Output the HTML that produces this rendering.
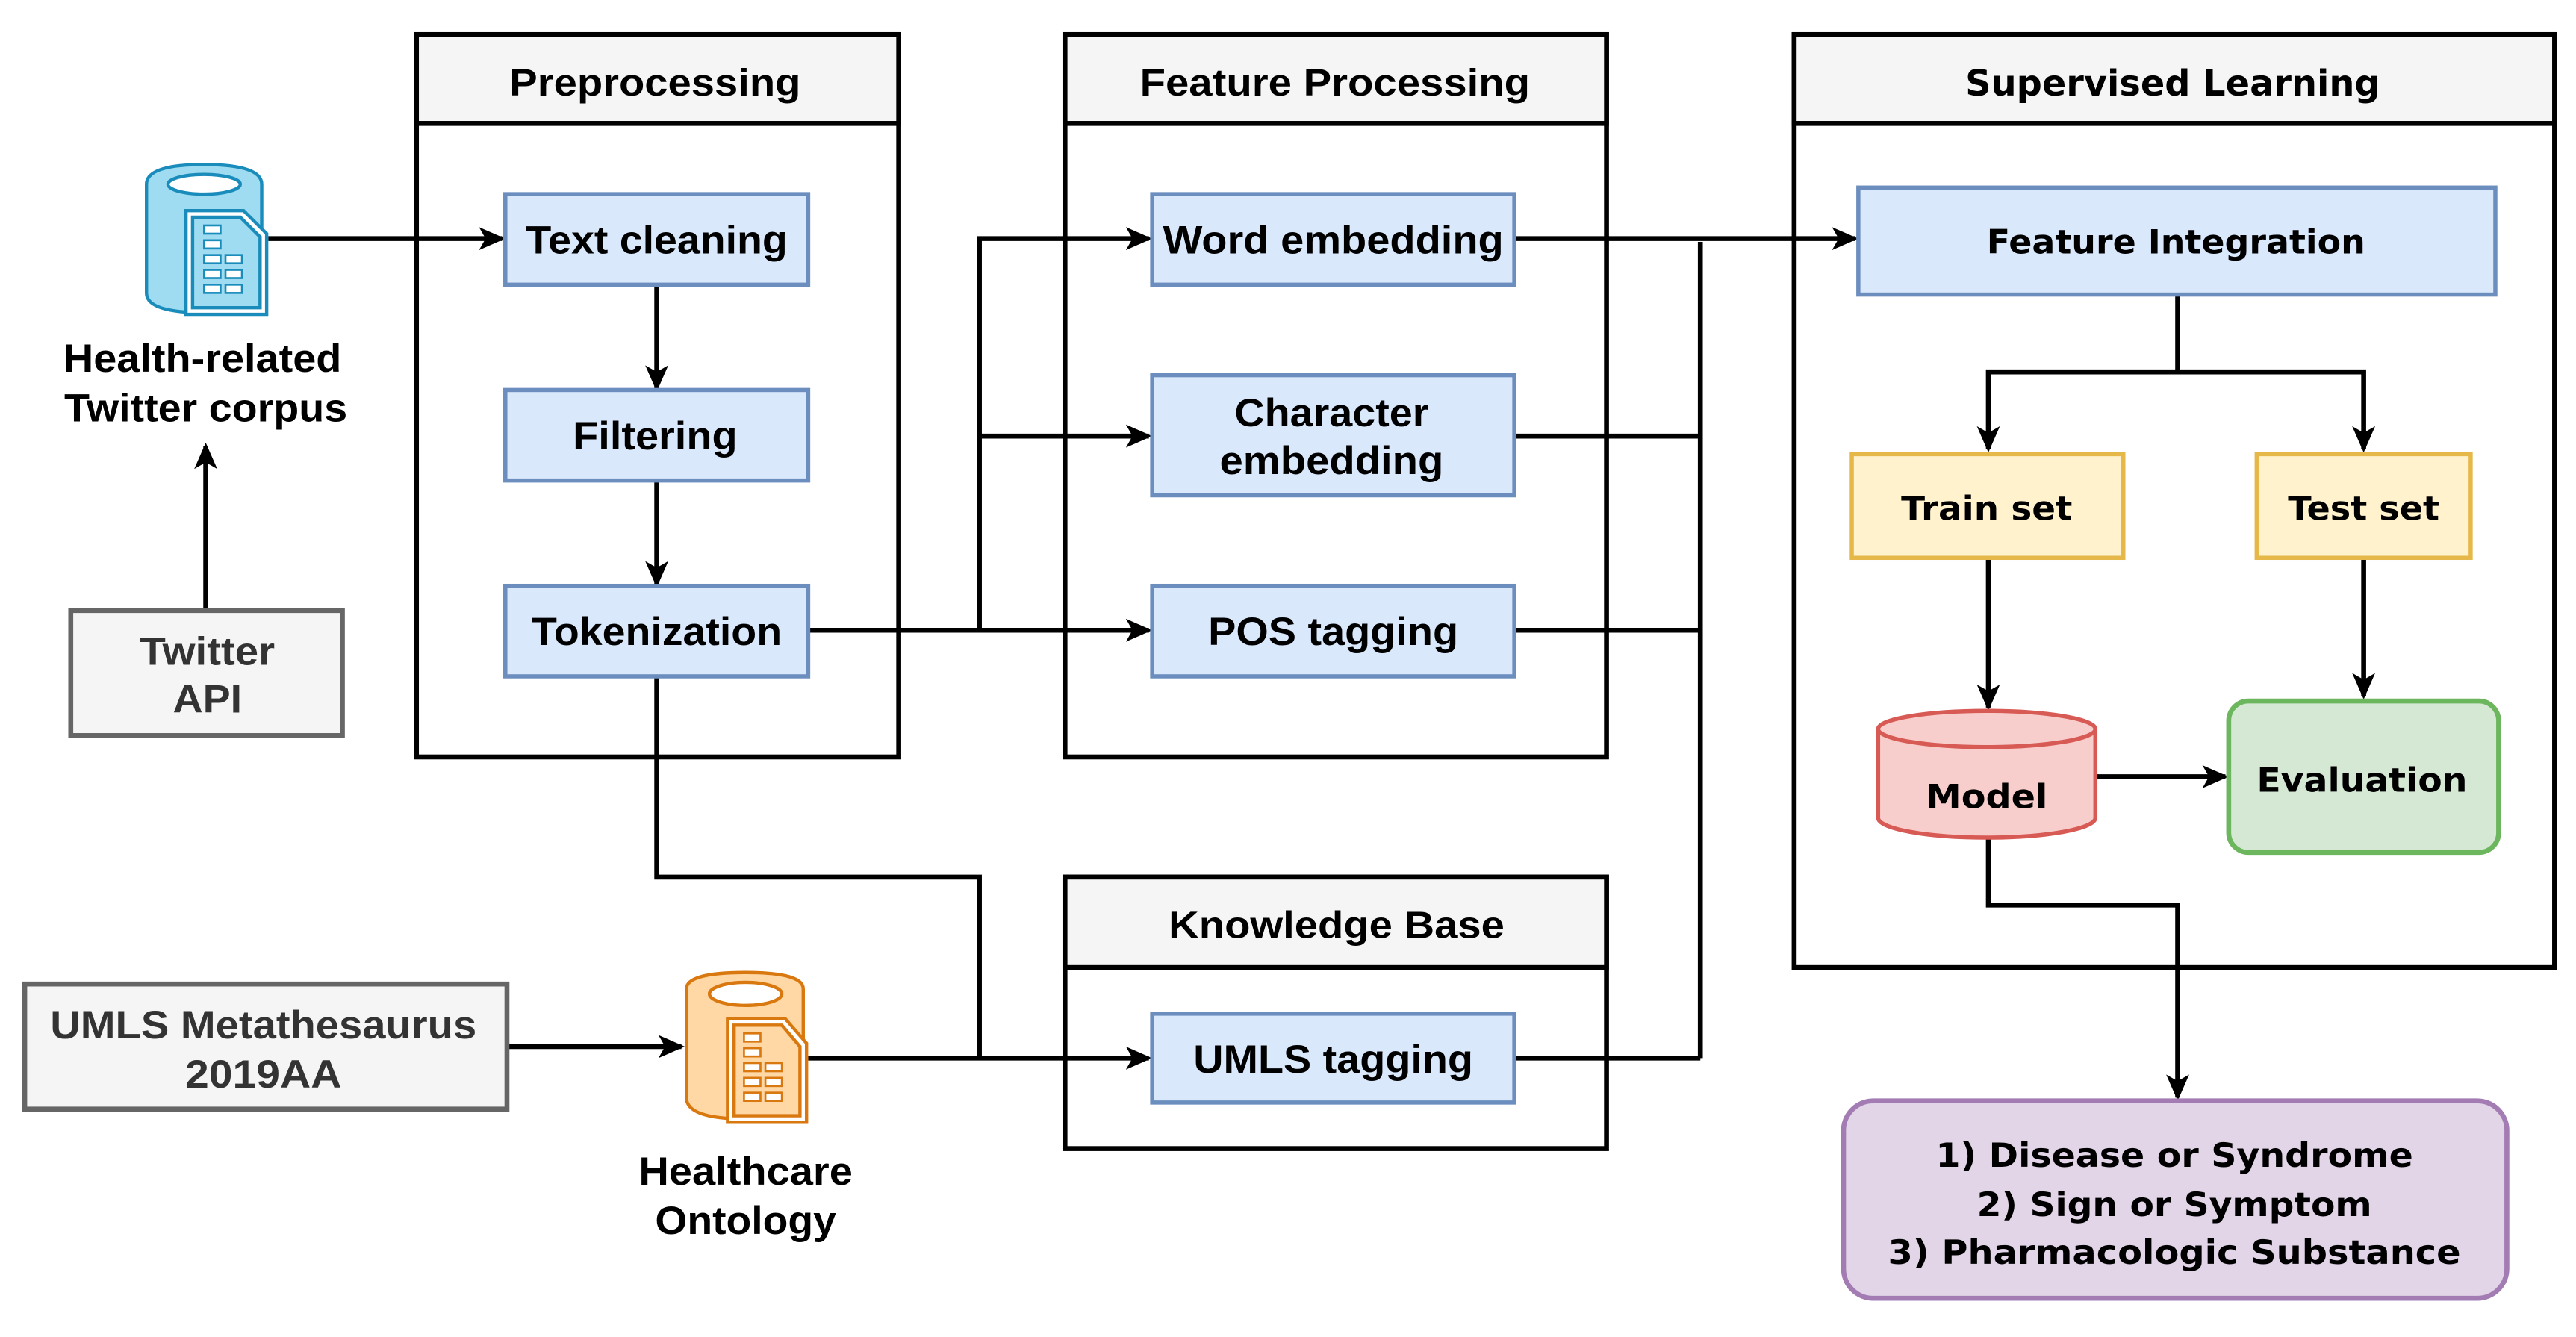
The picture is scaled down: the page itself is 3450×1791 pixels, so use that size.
<!DOCTYPE html>
<html><head><meta charset="utf-8"><style>
html,body{margin:0;padding:0;background:#fff;}
svg{display:block;}
text{font-family:"Liberation Sans",sans-serif;font-weight:bold;fill:#000;}
.v{font-family:"DejaVu Sans",sans-serif;}
.g{fill:#333;}
</style></head><body>
<svg width="3450" height="1791" viewBox="0 0 1565 812.5" preserveAspectRatio="none" xmlns="http://www.w3.org/2000/svg">
<defs>
<marker id="a" markerWidth="16" markerHeight="14" refX="14" refY="7" orient="auto" markerUnits="userSpaceOnUse" viewBox="0 0 16 14">
<path d="M0,0 L16,7 L0,14 L4,7 Z" fill="#000"/>
</marker>
</defs>
<rect width="1565" height="812.5" fill="#fff"/>

<g stroke="#000" stroke-width="3">
<rect x="253" y="21" width="293" height="439" fill="#fff"/>
<rect x="253" y="21" width="293" height="54" fill="#f5f5f5"/>
<rect x="647" y="21" width="329" height="439" fill="#fff"/>
<rect x="647" y="21" width="329" height="54" fill="#f5f5f5"/>
<rect x="1090" y="21" width="462" height="567" fill="#fff"/>
<rect x="1090" y="21" width="462" height="54" fill="#f5f5f5"/>
<rect x="647" y="533" width="329" height="165" fill="#fff"/>
<rect x="647" y="533" width="329" height="55" fill="#f5f5f5"/>
</g>
<text x="398" y="58" font-size="23" text-anchor="middle" textLength="177" lengthAdjust="spacingAndGlyphs">Preprocessing</text>
<text x="811" y="58" font-size="23" text-anchor="middle" textLength="237" lengthAdjust="spacingAndGlyphs">Feature Processing</text>
<text x="1320" y="58" font-size="22" class="v" text-anchor="middle" textLength="252" lengthAdjust="spacingAndGlyphs">Supervised Learning</text>
<text x="812" y="570" font-size="23" text-anchor="middle" textLength="204" lengthAdjust="spacingAndGlyphs">Knowledge Base</text>

<g stroke="#000" stroke-width="3" fill="none">
<path d="M163,145 H305" marker-end="url(#a)"/>
<path d="M399,174 V236" marker-end="url(#a)"/>
<path d="M399,293 V355" marker-end="url(#a)"/>
<path d="M491,383 H698" marker-end="url(#a)"/>
<path d="M595,383 V145 H698" marker-end="url(#a)"/>
<path d="M595,265 H698" marker-end="url(#a)"/>
<path d="M399,411 V533 H595 V643"/>
<path d="M491,643 H698" marker-end="url(#a)"/>
<path d="M308,636 H414" marker-end="url(#a)"/>
<path d="M125,370 V271" marker-end="url(#a)"/>
<path d="M920,145 H1127" marker-end="url(#a)"/>
<path d="M920,265 H1033 M920,383 H1033 M920,643 H1033 M1033,643 V147"/>
<path d="M1323,179 V226 H1208 V273" marker-end="url(#a)"/>
<path d="M1323,226 H1436 V273" marker-end="url(#a)"/>
<path d="M1208,339 V430" marker-end="url(#a)"/>
<path d="M1436,339 V423" marker-end="url(#a)"/>
<path d="M1273,472 H1352" marker-end="url(#a)"/>
<path d="M1208,510 V550 H1323 V667" marker-end="url(#a)"/>
</g>

<g fill="#dae8fc" stroke="#6c8ebf" stroke-width="2.5">
<rect x="307" y="118" width="184" height="55"/>
<rect x="307" y="237" width="184" height="55"/>
<rect x="307" y="356" width="184" height="55"/>
<rect x="700" y="118" width="220" height="55"/>
<rect x="700" y="228" width="220" height="73"/>
<rect x="700" y="356" width="220" height="55"/>
<rect x="700" y="616" width="220" height="54"/>
<rect x="1129" y="114" width="387" height="65"/>
</g>
<g font-size="24" text-anchor="middle">
<text x="399" y="154" textLength="159" lengthAdjust="spacingAndGlyphs">Text cleaning</text>
<text x="398" y="273" textLength="100" lengthAdjust="spacingAndGlyphs">Filtering</text>
<text x="399" y="392" textLength="152" lengthAdjust="spacingAndGlyphs">Tokenization</text>
<text x="810" y="154" textLength="207" lengthAdjust="spacingAndGlyphs">Word embedding</text>
<text x="809" y="259" textLength="118" lengthAdjust="spacingAndGlyphs">Character</text>
<text x="809" y="288" textLength="136" lengthAdjust="spacingAndGlyphs">embedding</text>
<text x="810" y="392" textLength="152" lengthAdjust="spacingAndGlyphs">POS tagging</text>
<text x="810" y="652" textLength="170" lengthAdjust="spacingAndGlyphs">UMLS tagging</text>
<text x="123" y="226" textLength="169" lengthAdjust="spacingAndGlyphs">Health-related</text>
<text x="125" y="256" textLength="172" lengthAdjust="spacingAndGlyphs">Twitter corpus</text>
<text x="453" y="720" textLength="130" lengthAdjust="spacingAndGlyphs">Healthcare</text>
<text x="453" y="750" textLength="110" lengthAdjust="spacingAndGlyphs">Ontology</text>
</g>

<g fill="#f5f5f5" stroke="#666" stroke-width="3">
<rect x="43" y="371" width="165" height="76"/>
<rect x="15" y="598" width="293" height="76"/>
</g>
<g font-size="24" text-anchor="middle">
<text class="g" x="126" y="404" textLength="82" lengthAdjust="spacingAndGlyphs">Twitter</text>
<text class="g" x="126" y="433" textLength="42" lengthAdjust="spacingAndGlyphs">API</text>
<text class="g" x="160" y="631" textLength="259" lengthAdjust="spacingAndGlyphs">UMLS Metathesaurus</text>
<text class="g" x="160" y="661" textLength="95" lengthAdjust="spacingAndGlyphs">2019AA</text>
</g>

<g fill="#fff2cc" stroke="#e6b84a" stroke-width="2.5">
<rect x="1125" y="276" width="165" height="63"/>
<rect x="1371" y="276" width="130" height="63"/>
</g>
<rect x="1354" y="426" width="164" height="92" rx="12" fill="#d5e8d4" stroke="#6cb65d" stroke-width="3"/>
<g stroke="#d85a55" stroke-width="2.5" fill="#f8cecc">
<path d="M1141,443 V497 A66,12 0 0 0 1273,497 V443"/>
<ellipse cx="1207" cy="443" rx="66" ry="11"/>
</g>
<rect x="1120" y="669" width="403" height="120" rx="18" fill="#e1d5e7" stroke="#a37cb4" stroke-width="3"/>
<g font-size="20" text-anchor="middle">
<text class="v" x="1322" y="154" textLength="230" lengthAdjust="spacingAndGlyphs">Feature Integration</text>
<text class="v" x="1207" y="316" textLength="104" lengthAdjust="spacingAndGlyphs">Train set</text>
<text class="v" x="1436" y="316" textLength="92" lengthAdjust="spacingAndGlyphs">Test set</text>
<text class="v" x="1207" y="491" textLength="74" lengthAdjust="spacingAndGlyphs">Model</text>
<text class="v" x="1435" y="481" textLength="128" lengthAdjust="spacingAndGlyphs">Evaluation</text>
<text class="v" x="1321" y="709" textLength="290" lengthAdjust="spacingAndGlyphs">1) Disease or Syndrome</text>
<text class="v" x="1321" y="739" textLength="240" lengthAdjust="spacingAndGlyphs">2) Sign or Symptom</text>
<text class="v" x="1321" y="768" textLength="348" lengthAdjust="spacingAndGlyphs">3) Pharmacologic Substance</text>
</g>

<g stroke="#1a8cbb" stroke-width="2">
<path d="M89,112 Q89,100 124,100 Q159,100 159,112 V178 Q159,190 124,190 Q89,190 89,178 Z" fill="#9fdcf1"/>
<ellipse cx="124" cy="112" rx="22" ry="6" fill="#fff"/>
<path d="M113,128 H148 L162,142 V191 H113 Z" fill="#fff"/>
<path d="M117,132 H146 L158,144 V187 H117 Z" fill="#9fdcf1"/>
<g fill="#fff" stroke-width="1.2">
<rect x="124" y="137" width="10" height="5"/><rect x="124" y="146" width="10" height="5"/>
<rect x="124" y="155" width="10" height="5"/><rect x="137" y="155" width="10" height="5"/>
<rect x="124" y="164" width="10" height="5"/><rect x="137" y="164" width="10" height="5"/>
<rect x="124" y="173" width="10" height="5"/><rect x="137" y="173" width="10" height="5"/>
</g>
</g>
<g stroke="#d9780f" stroke-width="2">
<path d="M417,601 Q417,591 453,591 Q488,591 488,601 V667 Q488,680 453,680 Q417,680 417,667 Z" fill="#ffd8a6"/>
<ellipse cx="453" cy="604" rx="22" ry="7" fill="#fff"/>
<path d="M442,619 H477 L490,634 V682 H442 Z" fill="#fff"/>
<path d="M446,623 H475 L486,636 V678 H446 Z" fill="#ffd8a6"/>
<g fill="#fff" stroke-width="1.2">
<rect x="452" y="628" width="10" height="5"/><rect x="452" y="637" width="10" height="5"/>
<rect x="452" y="646" width="10" height="5"/><rect x="465" y="646" width="10" height="5"/>
<rect x="452" y="655" width="10" height="5"/><rect x="465" y="655" width="10" height="5"/>
<rect x="452" y="664" width="10" height="5"/><rect x="465" y="664" width="10" height="5"/>
</g>
</g>
</svg>
</body></html>
